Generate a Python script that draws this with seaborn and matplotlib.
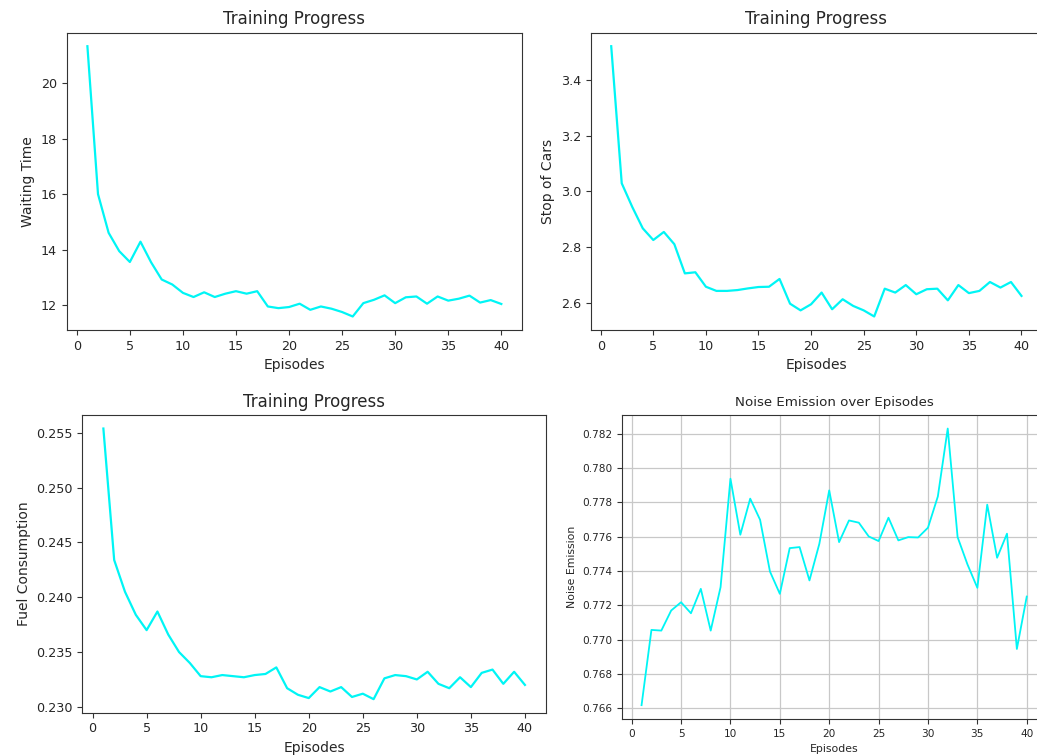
import matplotlib
matplotlib.use("Agg")
import matplotlib.pyplot as plt
import seaborn as sns
import numpy as np

episodes = list(range(1, 41))

waiting_time = [21.32, 16.00, 14.61, 13.95, 13.56, 14.29, 13.55, 12.93, 12.75, 12.45,
                12.30, 12.47, 12.30, 12.42, 12.51, 12.42, 12.51, 11.96, 11.90, 11.94,
                12.06, 11.84, 11.96, 11.88, 11.76, 11.60, 12.08, 12.20, 12.36, 12.08,
                12.29, 12.32, 12.06, 12.32, 12.17, 12.24, 12.35, 12.10, 12.19, 12.05]

stop_of_cars = [3.522, 3.029, 2.944, 2.867, 2.825, 2.854, 2.810, 2.705, 2.709, 2.657,
                2.642, 2.642, 2.645, 2.651, 2.656, 2.657, 2.685, 2.596, 2.572, 2.594,
                2.636, 2.576, 2.612, 2.588, 2.572, 2.550, 2.650, 2.636, 2.663, 2.630,
                2.648, 2.650, 2.608, 2.663, 2.634, 2.642, 2.674, 2.654, 2.674, 2.624]

fuel_consumption = [0.2554, 0.2434, 0.2405, 0.2384, 0.2370, 0.2387, 0.2366, 0.2350, 0.2340, 0.2328,
                    0.2327, 0.2329, 0.2328, 0.2327, 0.2329, 0.2330, 0.2336, 0.2317, 0.2311, 0.2308,
                    0.2318, 0.2314, 0.2318, 0.2309, 0.2312, 0.2307, 0.2326, 0.2329, 0.2328, 0.2325,
                    0.2332, 0.2321, 0.2317, 0.2327, 0.2318, 0.2331, 0.2334, 0.2321, 0.2332, 0.2320]

noise_emission = [0.76619, 0.77057, 0.77053, 0.77170, 0.77218, 0.77154, 0.77296, 0.77053, 0.77306, 0.77937,
                  0.77611, 0.77821, 0.77698, 0.77397, 0.77267, 0.77533, 0.77539, 0.77345, 0.77558, 0.77869,
                  0.77568, 0.77694, 0.77681, 0.77601, 0.77574, 0.77710, 0.77578, 0.77597, 0.77595, 0.77652,
                  0.77834, 0.78229, 0.77597, 0.77438, 0.77302, 0.77786, 0.77477, 0.77617, 0.76946, 0.77251]

W, H = 1037, 755
fig = plt.figure(figsize=(W / 100, H / 100), dpi=100)
plt.rcParams['font.family'] = ['DejaVu Sans']

def rect(l, r, t, b):
    return [l / W, (H - b) / H, (r - l) / W, (b - t) / H]

line_color = '#00f5f5'
text_color = '#262626'

panels = [
    (rect(66.7, 522, 32.7, 330), waiting_time, 'Waiting Time', 'Training Progress', 12, 10, 9.2, False, 1.6),
    (rect(590.7, 1042, 32.7, 330), stop_of_cars, 'Stop of Cars', 'Training Progress', 12, 10, 9.2, False, 1.6),
    (rect(82.3, 546, 415, 712.7), fuel_consumption, 'Fuel Consumption', 'Training Progress', 12, 10, 9.2, False, 1.6),
    (rect(622.3, 1046, 414.7, 719), noise_emission, 'Noise Emission', 'Noise Emission over Episodes', 9.6, 7.8, 7.6, True, 1.3),
]

for pos, vals, ylabel, title, tsize, lsize, ksize, grid, lw in panels:
    ax = fig.add_axes(pos)
    sns.lineplot(x=episodes, y=vals, ax=ax, color=line_color, linewidth=lw)
    ax.set_title(title, fontsize=tsize, color=text_color)
    ax.set_xlabel('Episodes', fontsize=lsize, color=text_color)
    ax.set_ylabel(ylabel, fontsize=lsize, color=text_color)
    ax.tick_params(labelsize=ksize, colors='#333333', labelcolor=text_color)
    ax.set_xticks([0, 5, 10, 15, 20, 25, 30, 35, 40])
    for s in ax.spines.values():
        s.set_color('#333333')
    if grid:
        ax.grid(True, color='#c8c8c8', linewidth=0.9)
        ax.set_axisbelow(True)

fig.savefig('out.png', dpi=100)
